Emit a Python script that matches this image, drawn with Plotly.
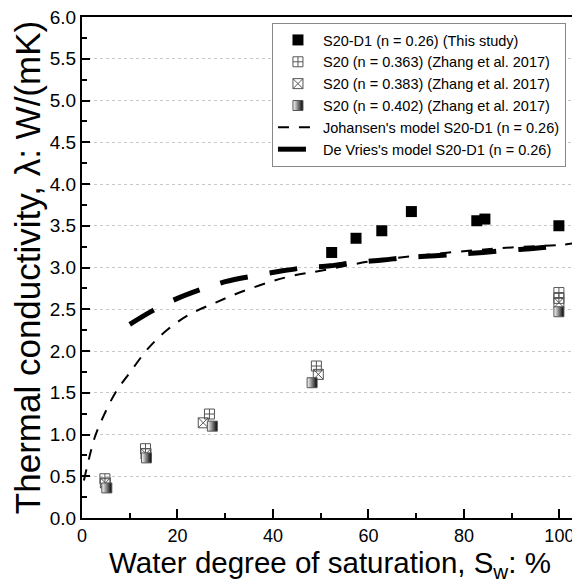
import plotly.graph_objects as go

# ------------------------------------------
# Data
# ------------------------------------------

this_x = [52.3, 57.4, 62.8, 69.0, 82.7, 84.4, 99.9]
this_y = [3.18, 3.35, 3.44, 3.67, 3.56, 3.58, 3.50]

z363_x = [4.8, 13.3, 26.7, 49.1, 99.9, 99.9]
z363_y = [0.47, 0.83, 1.245, 1.82, 2.70, 2.63]

z383_x = [4.9, 13.4, 25.4, 49.5, 99.9]
z383_y = [0.42, 0.77, 1.14, 1.72, 2.58]

z402_x = [5.2, 13.5, 27.3, 48.2, 99.9]
z402_y = [0.36, 0.72, 1.10, 1.62, 2.47]

johansen_x = [0.4, 1.5, 2.7, 4.5, 7.0, 10.0, 14.0, 18.0, 22.6, 28.0, 33.0,
              39.0, 44.0, 50.0, 60.0, 70.0, 81.0, 90.0, 100.0, 103.0]
johansen_y = [0.45, 0.72, 0.97, 1.22, 1.50, 1.74, 2.04, 2.26, 2.44, 2.58, 2.70,
              2.82, 2.90, 2.96, 3.07, 3.14, 3.20, 3.24, 3.27, 3.29]

devries_x = [10, 15, 20, 25, 30, 36, 42, 47, 52, 57, 63, 68, 74, 79, 84, 90, 95, 100]
devries_y = [2.32, 2.49, 2.63, 2.74, 2.83, 2.90, 2.96, 3.00, 3.02, 3.06, 3.09,
             3.12, 3.14, 3.16, 3.18, 3.21, 3.23, 3.26]

FONT = "Liberation Sans, Arial, sans-serif"
OUTLINE = "#555555"

fig = go.Figure()

fig.add_trace(go.Scatter(
    x=this_x, y=this_y, mode="markers",
    name="S20-D1 (n = 0.26) (This study)",
    marker=dict(symbol="square", size=11, color="black",
                line=dict(color="black", width=0))
))

fig.add_trace(go.Scatter(
    x=z363_x, y=z363_y, mode="markers",
    name="S20 (n = 0.363) (Zhang et al. 2017)",
    marker=dict(symbol="square-cross-open", size=10, color=OUTLINE,
                line=dict(width=1))
))

fig.add_trace(go.Scatter(
    x=z383_x, y=z383_y, mode="markers",
    name="S20 (n = 0.383) (Zhang et al. 2017)",
    marker=dict(symbol="square-x-open", size=10, color=OUTLINE,
                line=dict(width=1))
))

fig.add_trace(go.Scatter(
    x=z402_x, y=z402_y, mode="markers",
    name="S20 (n = 0.402) (Zhang et al. 2017)",
    marker=dict(symbol="square", size=10, color="white",
                gradient=dict(type="horizontal", color="black"),
                line=dict(color=OUTLINE, width=1))
))

fig.add_trace(go.Scatter(
    x=johansen_x, y=johansen_y, mode="lines",
    name="Johansen's model S20-D1 (n = 0.26)",
    line=dict(color="black", width=2, dash="11px,10px", shape="spline")
))

fig.add_trace(go.Scatter(
    x=devries_x, y=devries_y, mode="lines",
    name="De Vries's model S20-D1 (n = 0.26)",
    line=dict(color="black", width=5, dash="28px,22px", shape="spline")
))

# the page body keeps its 8px margin, so the figure is 8px smaller than the window
fig.update_layout(
    width=572,
    height=580,
    paper_bgcolor="white",
    plot_bgcolor="white",
    font=dict(family=FONT, color="black", size=18),
    margin=dict(l=74, r=2, t=9, b=70),
    showlegend=True,
    legend=dict(
        x=0.383, y=0.988, xanchor="left", yanchor="top",
        bgcolor="white", bordercolor="#888888", borderwidth=1,
        font=dict(family=FONT, size=14.5, color="black"),
        itemwidth=40,
        tracegroupgap=0
    ),
    xaxis=dict(
        range=[0, 103.9],
        automargin=False,
        tickvals=[0, 20, 40, 60, 80, 100],
        ticklabeloverflow="allow",
        ticks="inside", ticklen=9, tickwidth=1.5, tickcolor="black",
        minor=dict(dtick=10, ticks="inside", ticklen=5, tickwidth=1.5,
                   tickcolor="black", showgrid=False),
        showline=True, linecolor="black", linewidth=2, mirror=True,
        showgrid=False, zeroline=False,
        tickfont=dict(size=18),
        title=dict(text="Water degree of saturation, S<sub>w</sub>: %",
                   font=dict(size=29.5), standoff=2)
    ),
    yaxis=dict(
        range=[0, 6],
        automargin=False,
        dtick=0.5, tickformat=".1f",
        ticklabeloverflow="allow",
        ticks="inside", ticklen=8, tickwidth=1.5, tickcolor="black",
        minor=dict(dtick=0.25, ticks="inside", ticklen=5, tickwidth=1.5,
                   tickcolor="black", showgrid=False),
        showline=True, linecolor="black", linewidth=2,
        showgrid=True, gridcolor="#c8c8c8", gridwidth=1, griddash="dot",
        zeroline=False,
        tickfont=dict(size=19),
        title=dict(text="Thermal conductivity, \u03bb: W/(mK)",
                   font=dict(size=35), standoff=2)
    )
)

fig.write_html("out.html")
